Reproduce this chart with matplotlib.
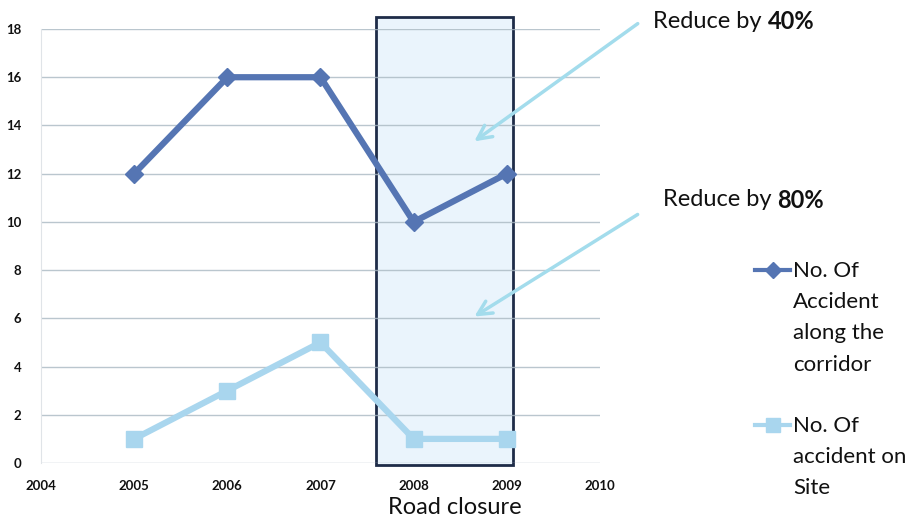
import matplotlib.pyplot as plt
from matplotlib.lines import Line2D
from matplotlib.patches import Rectangle

plt.rcParams['font.family'] = ['Lato', 'DejaVu Sans']

years = [2005, 2006, 2007, 2008, 2009]
corridor = [12, 16, 16, 10, 12]
on_site = [1, 3, 5, 1, 1]
x_ticks = [2004, 2005, 2006, 2007, 2008, 2009, 2010]
y_ticks = [0, 2, 4, 6, 8, 10, 12, 14, 16, 18]

dark = '#5575b3'
light = '#a9d6ee'
arrow_c = '#a3dcec'

W, H = 917, 519
fig = plt.figure(figsize=(W / 100, H / 100), dpi=100)
ax = fig.add_axes([41 / W, 1 - 463 / H, (600 - 41) / W, (463 - 29) / H])

# road closure box
ax.add_patch(Rectangle((2007.6, -0.1), 1.47, 18.6, facecolor='#eaf4fc',
                       edgecolor='#1e2c48', linewidth=2, zorder=1, clip_on=False))

for v in y_ticks:
    ax.axhline(v, color='#a9b8c2', linewidth=1, zorder=2, alpha=0.8)

ax.plot(years, on_site, color=light, linewidth=4.5, marker='s', markersize=11,
        zorder=3)
ax.plot(years, corridor, color=dark, linewidth=4.5, marker='D', markersize=9,
        zorder=4)

ax.set_xlim(2004, 2010)
ax.set_ylim(0, 18)
ax.set_xticks(x_ticks)
ax.set_yticks(y_ticks)
ax.tick_params(axis='both', length=0, labelsize=9.5, colors='#111111')
ax.tick_params(axis='x', pad=12)
ax.tick_params(axis='y', pad=14)
for lab in ax.get_xticklabels() + ax.get_yticklabels():
    lab.set_fontweight('bold')
for s in ['top', 'right', 'bottom']:
    ax.spines[s].set_visible(False)
ax.spines['left'].set_color('#e0e4e8')

fig.text(455 / W, 1 - 508 / H, 'Road closure', fontsize=17, ha='center',
         va='center', color='#111111')

# arrows
ax.annotate('', xy=(472, H - 143), xycoords='figure pixels',
            xytext=(640, H - 22), textcoords='figure pixels',
            arrowprops=dict(arrowstyle='->', color=arrow_c, lw=2.5,
                            mutation_scale=25))
ax.annotate('', xy=(472, H - 318), xycoords='figure pixels',
            xytext=(640, H - 213), textcoords='figure pixels',
            arrowprops=dict(arrowstyle='->', color=arrow_c, lw=2.5,
                            mutation_scale=25))

fig.canvas.draw()
r = fig.canvas.get_renderer()
for x0, y0, pct in [(653, 22, '40%'), (663, 200, '80%')]:
    t = fig.text(x0 / W, 1 - y0 / H, 'Reduce by ', fontsize=17, va='center',
                 color='#111111')
    bb = t.get_window_extent(renderer=r)
    fig.text(bb.x1 / W, 1 - y0 / H, pct, fontsize=17, va='center',
             fontweight='bold', color='#111111')

# legend
for yy, col, mk, ms, label in [
        (270, dark, 'D', 8, 'No. Of\nAccident\nalong the\ncorridor'),
        (425, light, 's', 10, 'No. Of\naccident on\nSite')]:
    fig.add_artist(Line2D([755 / W, 790 / W], [1 - yy / H, 1 - yy / H],
                          color=col, linewidth=3, marker=None))
    fig.add_artist(Line2D([773 / W], [1 - yy / H], color=col, marker=mk,
                          markersize=ms, linestyle='none'))
    fig.text(793 / W, 1 - (yy - 9) / H, label, fontsize=16, va='top',
             linespacing=1.7, color='#111111')

fig.savefig('out.png', dpi=100, facecolor='white')
